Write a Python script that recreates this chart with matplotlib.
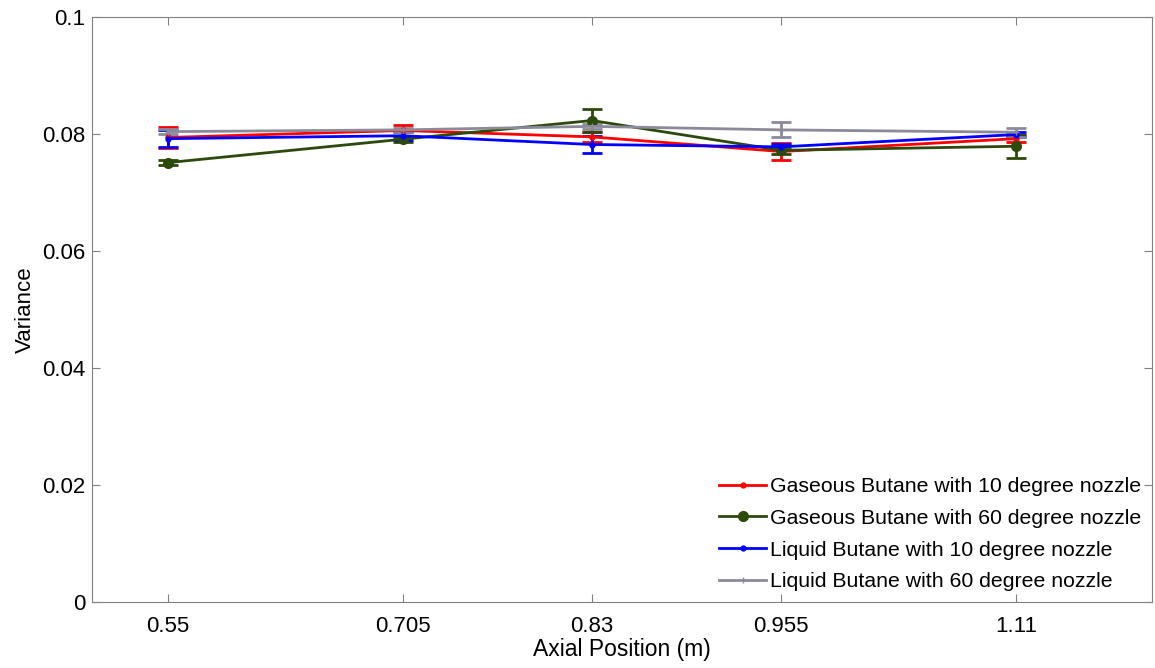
import matplotlib
matplotlib.use("Agg")

import matplotlib.pyplot as plt
from matplotlib.lines import Line2D

plt.rcParams["font.family"] = ["Liberation Sans", "DejaVu Sans"]

axial_position = [0.55, 0.705, 0.83, 0.955, 1.11]
x_tick_labels = ["0.55", "0.705", "0.83", "0.955", "1.11"]

gas_10 = [0.0794, 0.0806, 0.0795, 0.0770, 0.0792]
gas_10_err = [0.0018, 0.0010, 0.0008, 0.0015, 0.0006]

gas_60 = [0.0751, 0.0791, 0.0823, 0.0772, 0.0779]
gas_60_err = [0.0004, 0.0004, 0.0020, 0.0006, 0.0020]

liq_10 = [0.0792, 0.0797, 0.0782, 0.0778, 0.0799]
liq_10_err = [0.0015, 0.0007, 0.0015, 0.0005, 0.0005]

liq_60 = [0.0804, 0.0807, 0.0813, 0.0807, 0.0803]
liq_60_err = [0.0004, 0.0004, 0.0004, 0.0013, 0.0008]

SERIES = [
    ("Gaseous Butane with 10 degree nozzle", gas_10, gas_10_err, "#ff0000", ".", 7),
    ("Gaseous Butane with 60 degree nozzle", gas_60, gas_60_err, "#2b4a0b", "o", 7),
    ("Liquid Butane with 10 degree nozzle", liq_10, liq_10_err, "#0000ff", ".", 7),
    ("Liquid Butane with 60 degree nozzle", liq_60, liq_60_err, "#8a8a9a", "+", 5),
]


def main():
    fig = plt.figure(figsize=(11.55, 6.68), dpi=100)
    ax = fig.add_axes([0.0797, 0.0988, 0.918, 0.8758])

    handles = []
    for label, values, errors, color, marker, msize in SERIES:
        ax.errorbar(
            axial_position,
            values,
            yerr=errors,
            color=color,
            marker=marker,
            markersize=msize,
            linewidth=2,
            elinewidth=2,
            capsize=7,
            capthick=2,
        )
        handles.append(
            Line2D([], [], color=color, marker=marker,
                   markersize=msize, linewidth=2, label=label)
        )

    ax.set_xlim(0.5, 1.2)
    ax.set_ylim(0, 0.1)
    ax.set_xticks(axial_position)
    ax.set_xticklabels(x_tick_labels)
    ax.set_yticks([0, 0.02, 0.04, 0.06, 0.08, 0.1])
    ax.set_yticklabels(["0", "0.02", "0.04", "0.06", "0.08", "0.1"])

    ax.tick_params(direction="in", length=6, color="#808080", labelsize=16,
                   top=True, right=True)
    ax.tick_params(axis="x", pad=10)
    ax.tick_params(axis="y", pad=5)
    for spine in ax.spines.values():
        spine.set_color("#808080")

    ax.set_xlabel("Axial Position (m)", fontsize=16.5, labelpad=1)
    ax.set_ylabel("Variance", fontsize=16, labelpad=4)

    ax.legend(
        handles=handles,
        loc="lower right",
        fontsize=15.3,
        frameon=False,
        handlelength=2.2,
        handletextpad=0.2,
        labelspacing=0.6,
        borderpad=0.2,
        borderaxespad=0.3,
    )

    fig.savefig("out.png", dpi=100)
    plt.close(fig)


if __name__ == "__main__":
    main()
